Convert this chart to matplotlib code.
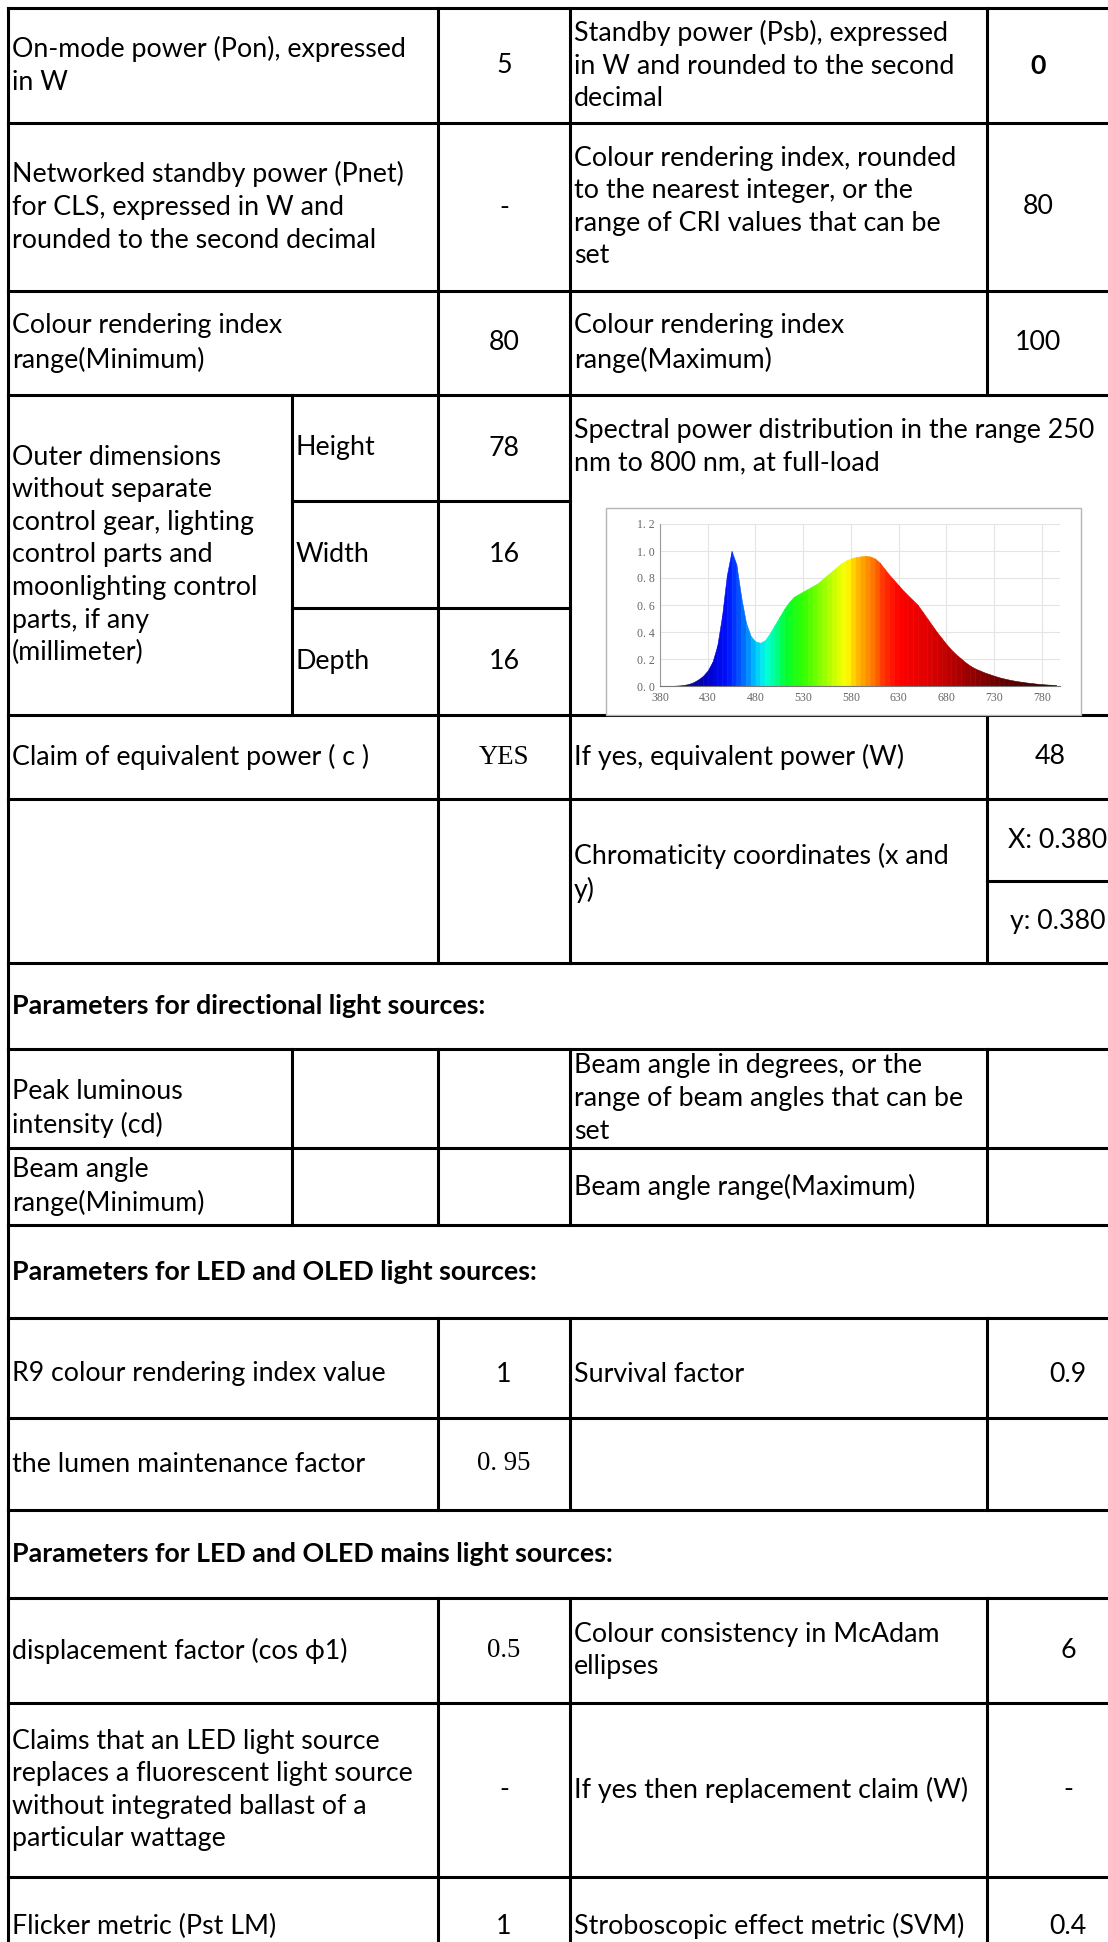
import numpy as np
import matplotlib.pyplot as plt
from matplotlib.colors import LinearSegmentedColormap, Normalize
from matplotlib.patches import Rectangle

W, H = 1108, 1942

# ---- spectrum (nm -> relative power) ----
wl = np.arange(380, 800, 5)
spd = [0.000, 0.000, 0.000, 0.002, 0.004, 0.008, 0.015, 0.028, 0.048, 0.075,
       0.115, 0.18, 0.30, 0.52, 0.82, 1.00, 0.90, 0.66, 0.47, 0.37,
       0.33, 0.32, 0.34, 0.39, 0.45, 0.51, 0.57, 0.62, 0.66, 0.68,
       0.70, 0.72, 0.74, 0.76, 0.79, 0.82, 0.85, 0.88, 0.91, 0.93,
       0.945, 0.955, 0.96, 0.965, 0.96, 0.945, 0.915, 0.87, 0.825, 0.785,
       0.745, 0.705, 0.67, 0.635, 0.60, 0.55, 0.50, 0.45, 0.40, 0.355,
       0.31, 0.27, 0.235, 0.205, 0.175, 0.15, 0.13, 0.115, 0.10, 0.088,
       0.076, 0.065, 0.056, 0.048, 0.041, 0.035, 0.03, 0.025, 0.021, 0.017,
       0.014, 0.011, 0.009, 0.007]
spd = np.array(spd)
x_ticks = [380, 430, 480, 530, 580, 630, 680, 730, 780]
y_ticks = [0.0, 0.2, 0.4, 0.6, 0.8, 1.0, 1.2]
y_labels = ["0. 0", "0. 2", "0. 4", "0. 6", "0. 8", "1. 0", "1. 2"]

# ---- table texts ----
sec_titles = ["Parameters for directional light sources:",
              "Parameters for LED and OLED light sources:",
              "Parameters for LED and OLED mains light sources:"]
dims = ["Height", "Width", "Depth"]
dim_vals = ["78", "16", "16"]

FONT = ["Lato", "DejaVu Sans"]
SERIF = ["Liberation Serif", "DejaVu Serif"]
FS = 19.3
LS = 1.38
LW = 2.2

# column edges (px)
L, S, A, B, C, R = 8, 292, 438, 570, 987, 1160
VC = 504       # centre of value column
RC_TOP = 1038  # right value column, upper block
RC_MID = 1050
RC_LOW = 1068  # right value column, lower block

# row edges (px)
rows = [8, 123, 291, 395, 715, 799, 963, 1049, 1148, 1225, 1318, 1418,
        1510, 1598, 1703, 1877, 1975]
sub4 = [395, 501, 608, 715]
chrom_split = 881

fig = plt.figure(figsize=(W / 100, H / 100), dpi=100)
ax = fig.add_axes([0, 0, 1, 1])
ax.set_xlim(0, W)
ax.set_ylim(H, 0)
ax.axis("off")


def hline(y, x0=L, x1=R):
    ax.plot([x0, x1], [y, y], color="black", lw=LW, solid_capstyle="projecting")


def vline(x, y0, y1):
    ax.plot([x, x], [y0, y1], color="black", lw=LW, solid_capstyle="projecting")


def label(x, y, s, **kw):
    kw.setdefault("family", FONT)
    ax.text(x + 4, y, s, ha="left", va="center", fontsize=FS, linespacing=LS, **kw)


def value(x, y, s, **kw):
    kw.setdefault("family", FONT)
    ax.text(x, y, s, ha="center", va="center", fontsize=FS, linespacing=LS, **kw)


def mid(i):
    return (rows[i] + rows[i + 1]) / 2


# horizontal lines
for y in rows:
    hline(y)
hline(sub4[1], S, B)
hline(sub4[2], S, B)
hline(chrom_split, C, R)

# vertical lines per row
layout = {0: [L, A, B, C, R], 1: [L, A, B, C, R], 2: [L, A, B, C, R],
          3: [L, S, A, B, R], 4: [L, A, B, C, R], 5: [L, A, B, C, R],
          6: [L, R], 7: [L, S, A, B, C, R], 8: [L, S, A, B, C, R],
          9: [L, R], 10: [L, A, B, C, R], 11: [L, A, B, C, R],
          12: [L, R], 13: [L, A, B, C, R], 14: [L, A, B, C, R],
          15: [L, A, B, C, R]}
for i, xs in layout.items():
    for x in xs:
        vline(x, rows[i], rows[i + 1])

# row 1
label(L, mid(0), "On-mode power (Pon), expressed\nin W")
value(VC, mid(0), "5")
label(B, mid(0), "Standby power (Psb), expressed\nin W and rounded to the second\ndecimal")
value(RC_TOP, mid(0), "0", fontweight="bold")
# row 2
label(L, mid(1), "Networked standby power (Pnet)\nfor CLS, expressed in W and\nrounded to the second decimal")
value(VC, mid(1), "-")
label(B, mid(1), "Colour rendering index, rounded\nto the nearest integer, or the\nrange of CRI values that can be\nset")
value(RC_TOP, mid(1), "80")
# row 3
label(L, mid(2), "Colour rendering index\nrange(Minimum)")
value(VC, mid(2), "80")
label(B, mid(2), "Colour rendering index\nrange(Maximum)")
value(RC_TOP, mid(2), "100")
# row 4
label(L, mid(3), "Outer dimensions\nwithout separate\ncontrol gear, lighting\ncontrol parts and\n"
      "moonlighting control\nparts, if any\n(millimeter)")
for k in range(3):
    yc = (sub4[k] + sub4[k + 1]) / 2
    label(S, yc, dims[k])
    value(VC, yc, dim_vals[k])
label(B, rows[3] + 52, "Spectral power distribution in the range 250\nnm to 800 nm, at full-load")
# row 5
label(L, mid(4), "Claim of equivalent power ( c )")
value(VC, mid(4), "YES", family=SERIF)
label(B, mid(4), "If yes, equivalent power (W)")
value(RC_MID, mid(4), "48")
# row 6
label(B, mid(5) - 8, "Chromaticity coordinates (x and\ny)")
value(1058, (rows[5] + chrom_split) / 2, "X: 0.380")
value(1058, (chrom_split + rows[6]) / 2, "y: 0.380")
# sections
label(L, mid(6), sec_titles[0], fontweight="bold")
label(L, mid(9), sec_titles[1], fontweight="bold")
label(L, mid(12), sec_titles[2], fontweight="bold")
# directional
label(L, mid(7) + 10, "Peak luminous\nintensity (cd)")
label(B, mid(7), "Beam angle in degrees, or the\nrange of beam angles that can be\nset")
label(L, mid(8), "Beam angle\nrange(Minimum)")
label(B, mid(8), "Beam angle range(Maximum)")
# LED
label(L, mid(10) + 6, "R9 colour rendering index value")
value(VC, mid(10) + 6, "1")
label(B, mid(10) + 6, "Survival factor")
value(RC_LOW, mid(10) + 6, "0.9")
label(L, mid(11), "the lumen maintenance factor")
value(VC, mid(11), "0. 95", family=SERIF)
# mains
label(L, mid(13), "displacement factor (cos \u03d51)")
value(VC, mid(13), "0.5", family=SERIF)
label(B, mid(13), "Colour consistency in McAdam\nellipses")
value(RC_LOW, mid(13), "6")
label(L, mid(14), "Claims that an LED light source\nreplaces a fluorescent light source\n"
      "without integrated ballast of a\nparticular wattage")
value(VC, mid(14), "-")
label(B, mid(14), "If yes then replacement claim (W)")
value(RC_LOW, mid(14), "-")
label(L, mid(15), "Flicker metric (Pst LM)")
value(VC, mid(15), "1")
label(B, mid(15), "Stroboscopic effect metric (SVM)")
value(RC_LOW, mid(15), "0.4")

# ---- spectrum inset ----
ax.add_patch(Rectangle((606, 508), 1081 - 606, 715 - 508, facecolor="white",
                       edgecolor="#b5b5b5", lw=1.0, zorder=3))
px0, px1, py0, py1 = 660, 1060, 524, 686
sx = fig.add_axes([px0 / W, 1 - py1 / H, (px1 - px0) / W, (py1 - py0) / H], zorder=5)
sx.set_xlim(380, 799)
sx.set_ylim(0, 1.2)
stops = [(380, "#1a0050"), (410, "#0a0a8c"), (430, "#0000c8"), (450, "#0010ff"),
         (465, "#0060ff"), (480, "#00c8ff"), (490, "#00ffe0"), (500, "#00ff90"),
         (510, "#00ff30"), (530, "#30ff00"), (550, "#90ff00"), (565, "#d8ff00"),
         (575, "#ffff00"), (585, "#ffc000"), (600, "#ff8000"), (615, "#ff3000"),
         (630, "#ff0000"), (660, "#e00000"), (700, "#a00000"), (740, "#600000"),
         (799, "#2a0000")]
cmap = LinearSegmentedColormap.from_list(
    "spec", [((w - 380) / (799 - 380), c) for w, c in stops])
norm = Normalize(380, 799)
for i in range(len(wl) - 1):
    col = cmap(norm((wl[i] + wl[i + 1]) / 2))
    sx.fill_between(wl[i:i + 2], spd[i:i + 2], color=col, lw=0.4, edgecolor=col)
sx.set_xticks(x_ticks)
sx.set_yticks(y_ticks)
sx.set_yticklabels(y_labels)
sx.grid(True, color="#e4e4e4", lw=0.8)
sx.set_axisbelow(True)
sx.tick_params(length=0, labelsize=8.5, labelcolor="#666666", pad=4)
for t in sx.get_xticklabels() + sx.get_yticklabels():
    t.set_family(SERIF)
for side in ["top", "right"]:
    sx.spines[side].set_visible(False)
sx.spines["left"].set_color("#999999")
sx.spines["bottom"].set_color("#777777")
sx.spines["left"].set_linewidth(0.8)
sx.spines["bottom"].set_linewidth(0.8)

fig.savefig("out.png", dpi=100)
